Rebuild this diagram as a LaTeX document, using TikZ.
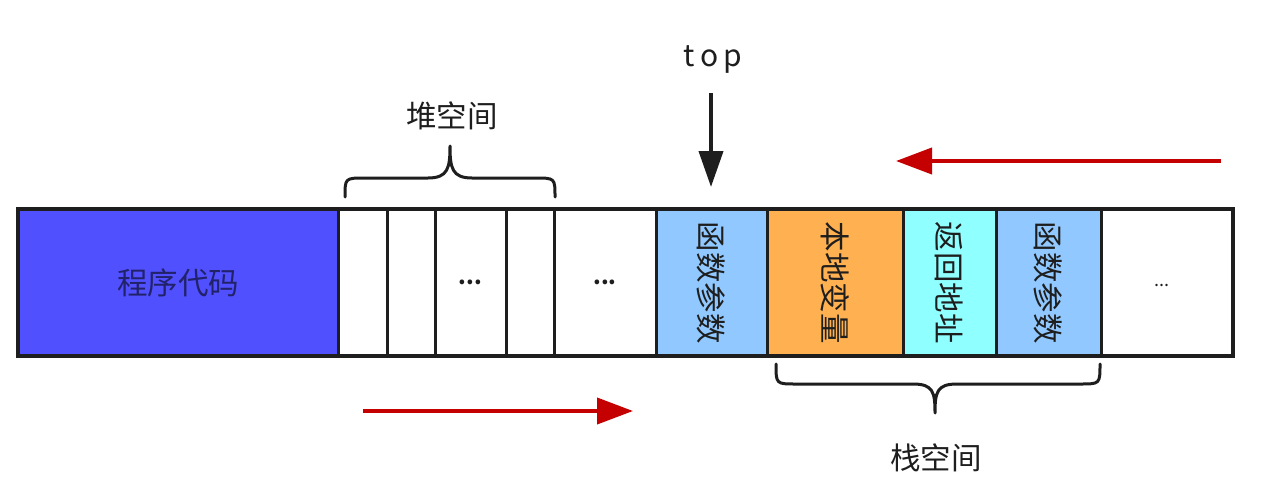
\documentclass[tikz,border=0pt]{standalone}
\usepackage{fontspec}
\setmainfont{Noto Sans CJK SC}
\usetikzlibrary{arrows.meta}
\definecolor{codeblue}{HTML}{5050FF}
\definecolor{paramblue}{HTML}{90C8FF}
\definecolor{localorange}{HTML}{FFB050}
\definecolor{retcyan}{HTML}{90FFFF}
\definecolor{arrowred}{HTML}{C40000}
\definecolor{codetext}{HTML}{22226A}
\definecolor{ink}{HTML}{1E1E1E}
\begin{document}
\begin{tikzpicture}[x=1pt,y=-1pt,
  cell/.style={draw=ink, line width=3pt, inner sep=0pt, outer sep=0pt,
    minimum height=147pt, fill=white, text=ink},
  cjk/.style={font=\fontsize{30.5}{36}\selectfont},
  vtext/.style={cjk, rotate=-90},
  dots/.style={font=\fontsize{22}{26}\selectfont\bfseries},
  redarrow/.style={draw=arrowred, line width=4pt, -{Triangle[length=36pt,width=26pt]}},
  blackarrow/.style={draw=ink, line width=4pt, -{Triangle[length=36pt,width=24pt]}},
  brace/.style={draw=ink, line width=3pt, line cap=round, line join=round}]
\useasboundingbox (0,0) rectangle (1271,503);
\fill[white] (0,0) rectangle (1271,503);

% cells
\node[cell, minimum width=320pt, fill=codeblue, text=codetext, cjk] (code) at (178,282.5) {程序代码};
\node[cell, minimum width=49pt] (h1) at (362.5,282.5) {};
\node[cell, minimum width=48pt] (h2) at (411,282.5) {};
\node[cell, minimum width=71pt, dots] (h3) at (470.5,282.5) {...};
\node[cell, minimum width=48pt] (h4) at (530,282.5) {};
\node[cell, minimum width=102pt, dots] (h5) at (605,282.5) {...};
\node[cell, minimum width=111pt, fill=paramblue] (p1) at (711.5,282.5) {};
\node[cell, minimum width=136pt, fill=localorange] (lv) at (835,282.5) {};
\node[cell, minimum width=93pt, fill=retcyan] (ra) at (949.5,282.5) {};
\node[cell, minimum width=105pt, fill=paramblue] (p2) at (1048.5,282.5) {};
\node[cell, minimum width=132pt] (e) at (1167,282.5) {};
\node[font=\fontsize{18}{22}\selectfont, text=ink] (edots) at (1162,285) {...};

\node[vtext, text=ink] (p1t) at (p1) {函数参数};
\node[vtext, text=ink] (lvt) at (lv) {本地变量};
\node[vtext, text=ink] (rat) at (ra) {返回地址};
\node[vtext, text=ink] (p2t) at (p2) {函数参数};

% outer frame
\draw[draw=ink, line width=4pt] (18,209) rectangle (1233,356);

% heap brace
\draw[brace] (345,197) .. controls (345,178) .. (365,178) -- (428,178)
  .. controls (448,178) and (450,168) .. (450,146)
  .. controls (450,168) and (452,178) .. (472,178) -- (535,178)
  .. controls (555,178) .. (555,197);
\node[cjk, text=ink] (heap) at (452,116) {堆空间};

% stack brace
\draw[brace] (776,364) .. controls (776,384) .. (796,384) -- (913,384)
  .. controls (933,384) and (935,392) .. (935,413)
  .. controls (935,392) and (937,384) .. (957,384) -- (1080,384)
  .. controls (1100,384) .. (1100,364);
\node[cjk, text=ink] (stack) at (936,458) {栈空间};

% top pointer
\node[font=\fontsize{30}{34}\selectfont, text=ink] (top) at (713,59) {t\,o\,p};
\coordinate (topa) at (711,93);
\coordinate (topb) at (711,187);
\draw[blackarrow] (topa) -- (topb);

% growth arrows
\coordinate (ra1) at (1221,161);
\coordinate (ra2) at (896,161);
\draw[redarrow] (ra1) -- (ra2);
\coordinate (rb1) at (363,411);
\coordinate (rb2) at (633,411);
\draw[redarrow] (rb1) -- (rb2);
\end{tikzpicture}
\end{document}
